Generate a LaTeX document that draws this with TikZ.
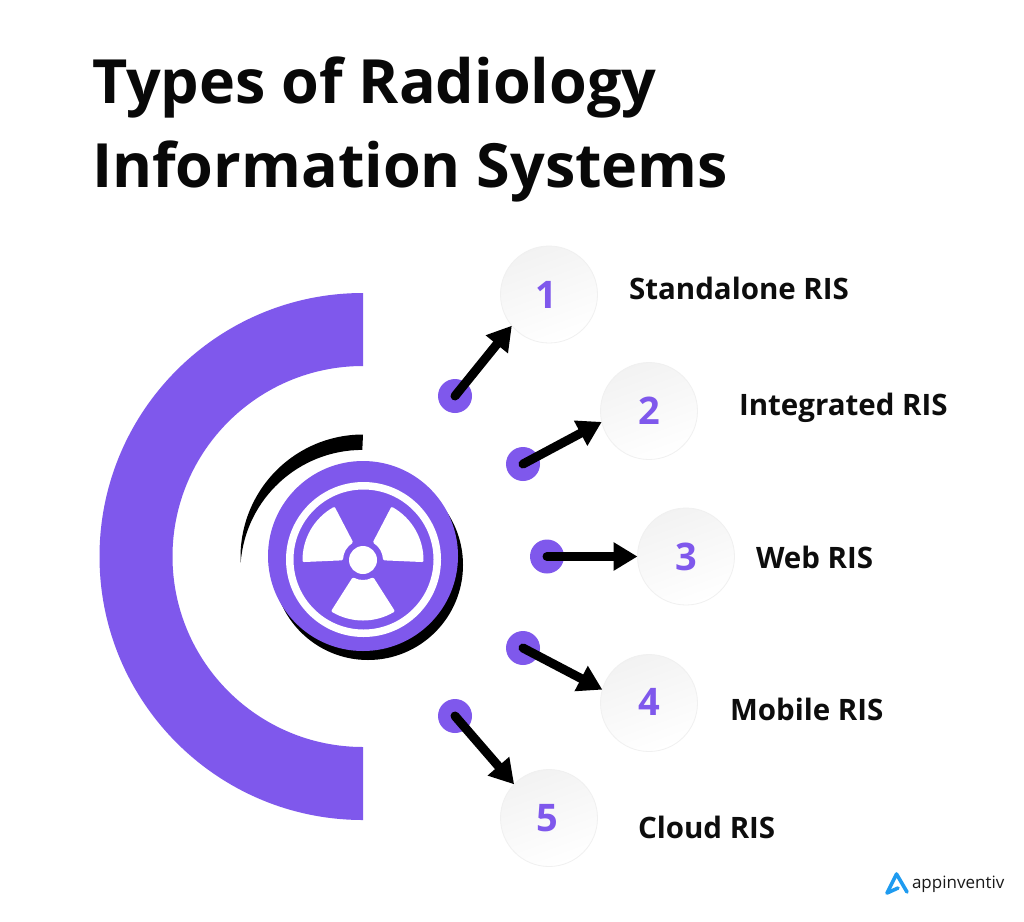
\documentclass[tikz,border=0pt]{standalone}
\usepackage{fontspec}
\setmainfont{Open Sans}
\usetikzlibrary{arrows.meta}
\definecolor{vio}{HTML}{7F58EC}
\definecolor{logoblue}{HTML}{1E9BF0}
\tikzset{
  ballnode/.style={circle,minimum size=97pt,inner sep=0pt,outer sep=0pt,draw=black!6,line width=0.8pt,shade,top color=black!5,bottom color=white,shading angle=20,text=vio,font=\bfseries\fontsize{38}{44}\selectfont},
  dotnode/.style={circle,minimum size=34pt,inner sep=0pt,outer sep=0pt,fill=vio},
  arr/.style={line width=9pt,-{Triangle[length=24pt,width=27pt]},line cap=round,black},
  lab/.style={anchor=base west,inner sep=0pt,outer sep=0pt,font=\bfseries\fontsize{29.5}{34}\selectfont,text=black!95},
  ttl/.style={anchor=base west,inner sep=0pt,outer sep=0pt,font=\bfseries\fontsize{61}{72}\selectfont,text=black!97},
}
\begin{document}
\begin{tikzpicture}[x=1pt,y=-1pt]
\useasboundingbox (0,0) rectangle (1024,921);
\fill[white] (0,0) rectangle (1024,921);
% title
\node[ttl] (t1) at (92,103) {Types of Radiology};
\node[ttl] (t2) at (92,187) {Information Systems};
% big arc
\fill[vio] (363,293) arc[start angle=90,end angle=270,radius=263.5pt] -- (363,747) arc[start angle=270,end angle=90,radius=190.5pt] -- cycle;
% crescent
\fill[black] (363,434.5) arc[start angle=90,end angle=182.8,radius=122.5pt] arc[start angle=175.8,end angle=90,radius=122pt] -- cycle;
% hub
\fill[black] (368,565) circle[radius=95pt];
\fill[vio] (363,556) circle[radius=95pt];
\fill[white,even odd rule] (363.5,559.5) circle[radius=77.5pt] (363.5,559.5) circle[radius=70pt];
\begin{scope}[shift={(363,560)}]
\foreach \a in {30,150,270}{
  \filldraw[white,line width=3pt,line join=round] (\a-27:21.5pt) -- (\a-30.5:59pt) arc[start angle=\a-30.5,end angle=\a+30.5,radius=59pt] -- (\a+27:21.5pt) arc[start angle=\a+27,end angle=\a-27,radius=21.5pt] -- cycle;
}
\fill[white] (0pt,0pt) circle[radius=14pt];
\end{scope}
% balls
\node[ballnode] (c1) at (549,294.5) {\kern-5pt 1};
\node[ballnode] (c2) at (649,411) {2};
\node[ballnode] (c3) at (686,556.5) {\raisebox{-3pt}{3}};
\node[ballnode] (c4) at (649,703) {\raisebox{2pt}{4}};
\node[ballnode] (c5) at (549,818) {\kern-4pt 5};
% dots
\node[dotnode] (d1) at (455,396) {};
\node[dotnode] (d2) at (523,464) {};
\node[dotnode] (d3) at (547,556.5) {};
\node[dotnode] (d4) at (523,648) {};
\node[dotnode] (d5) at (455,716) {};
% arrows
\draw[arr] (d1.center) -- (c1.220);
\draw[arr] (d2.center) -- (c2.193);
\draw[arr] (d3.center) -- (c3.west);
\draw[arr] (d4.center) -- (c4.164);
\draw[arr] (d5.center) -- (c5.136);
% labels
\node[lab] (l1) at (629,299.5) {Standalone RIS};
\node[lab] (l2) at (739,415.5) {Integrated RIS};
\node[lab] (l3) at (756,568.5) {Web RIS};
\node[lab] (l4) at (730,720.5) {Mobile RIS};
\node[lab] (l5) at (638,838.5) {Cloud RIS};
% logo
\draw[logoblue,line width=3.6pt,line join=round,line cap=round] (907,892) -- (896.5,874) -- (887,893) -- (898,888);
\node[anchor=base west,inner sep=0pt,outer sep=0pt,font=\fontsize{17}{20}\selectfont,text=black!90] (logo) at (912,888) {appinventiv};
\end{tikzpicture}
\end{document}
